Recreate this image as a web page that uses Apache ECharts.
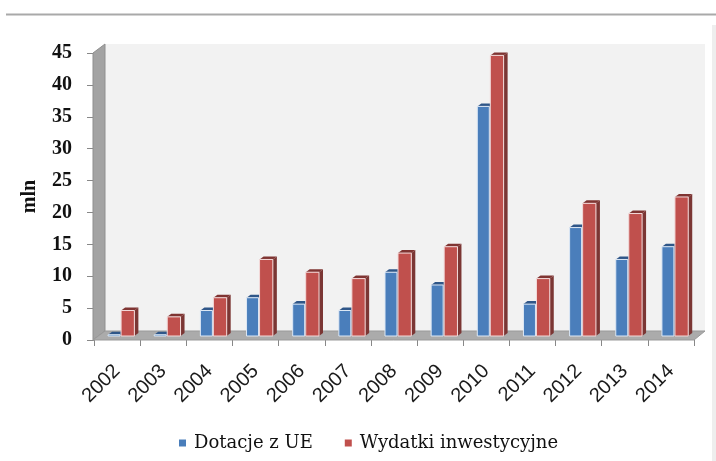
<!DOCTYPE html>
<html><head><meta charset="utf-8">
<script src="https://cdn.jsdelivr.net/npm/echarts@6.0.0/dist/echarts.min.js"></script>
<style>html,body{margin:0;padding:0;background:#fff;}#c{width:716px;height:461px;}</style>
</head><body><div id="c"></div>
<script>
const categories = ['2002','2003','2004','2005','2006','2007','2008','2009','2010','2011','2012','2013','2014'];
const dotacje = [0.2, 0.2, 4, 6, 5, 4, 10, 8, 36, 5, 17, 12, 14];
const wydatki = [4, 3, 6, 12, 10, 9, 13, 14, 44, 9, 20.8, 19.2, 21.8];
const seriesNames = ['Dotacje z UE', 'Wydatki inwestycyjne'];
const yMin = 0, yMax = 45, yStep = 5;

const chart = echarts.init(document.getElementById('c'), null, {renderer: 'canvas'});

function barRenderer(offL, offR, col) {
  return function (params, api) {
    const i = api.value(0), v = api.value(1);
    const base = api.coord([i, 0]);
    const top = api.coord([i, v]);
    const bw = api.size([1, 0])[0];
    const sh = 4, dx = 4, dy = 3;
    const x0 = base[0] + offL * bw, x1 = base[0] + offR * bw;
    const yb = base[1] - sh, yt = top[1] - sh;
    return {type: 'group', children: [
      {type: 'polygon', shape: {points: [[x1, yt], [x1 + dx, yt - dy], [x1 + dx, yb - dy], [x1, yb]]}, style: {fill: col.side}},
      {type: 'polygon', shape: {points: [[x0, yt], [x1, yt], [x1 + dx, yt - dy], [x0 + dx, yt - dy]]}, style: {fill: col.top}},
      {type: 'rect', shape: {x: x0, y: yt, width: x1 - x0, height: yb - yt}, style: {fill: col.front, stroke: col.edge, lineWidth: 1}}
    ]};
  };
}

function wallRenderer(params, api) {
  const cs = params.coordSys;
  const L = cs.x, T = cs.y, R = cs.x + cs.width, B = cs.y + cs.height;
  const dx = 11, dy = 9;
  return {type: 'group', children: [
    {type: 'rect', shape: {x: L + dx, y: T - dy, width: R - L, height: B - T}, style: {fill: '#f2f2f2'}},
    {type: 'polygon', shape: {points: [[L - 1, T], [L + dx, T - dy], [L + dx, B - dy], [L - 1, B]]}, style: {fill: '#a3a3a3', stroke: '#8f8f8f', lineWidth: 1}},
    {type: 'polygon', shape: {points: [[L - 1, B], [L + dx, B - dy], [R + dx, B - dy], [R, B]]}, style: {fill: '#ababab', stroke: '#999', lineWidth: 1}}
  ]};
}

chart.setOption({
  backgroundColor: '#ffffff',
  animation: false,
  grid: {left: 94, right: 22, top: 53, bottom: 121},
  graphic: [
    {type: 'line', shape: {x1: 6, y1: 14.5, x2: 716, y2: 14.5}, style: {stroke: '#a9a9a9', lineWidth: 2}},
    {type: 'rect', shape: {x: 712, y: 25, width: 4, height: 436}, style: {fill: '#eeeeee'}}
  ],
  legend: {
    data: seriesNames,
    left: 174, top: 429,
    icon: 'rect', itemWidth: 7, itemHeight: 7, itemGap: 32,
    textStyle: {fontFamily: 'DejaVu Serif', fontSize: 18, color: '#111', padding: [0, 0, 0, 3]}
  },
  xAxis: {
    type: 'category', data: categories,
    axisLine: {show: false},
    axisTick: {show: true, length: 6, lineStyle: {color: '#888'}},
    axisLabel: {rotate: 45, margin: 28, fontFamily: 'Liberation Sans', fontSize: 20, color: '#1a1a1a'}
  },
  yAxis: {
    type: 'value', min: yMin, max: yMax, interval: yStep,
    name: 'mln', nameLocation: 'middle', nameGap: 54,
    nameTextStyle: {fontFamily: 'Liberation Serif', fontWeight: 'bold', fontSize: 20, color: '#111'},
    axisLine: {show: false},
    axisTick: {show: true, length: 7, lineStyle: {color: '#888'}},
    splitLine: {show: false},
    axisLabel: {margin: 22, fontFamily: 'Liberation Serif', fontWeight: 'bold', fontSize: 20, color: '#111'}
  },
  series: [
    {type: 'custom', name: '_walls', silent: true, z: 1, data: [[0, 0]], renderItem: wallRenderer, clip: false},
    {type: 'custom', name: seriesNames[0], z: 2, itemStyle: {color: '#4a7ebb'},
      data: dotacje.map((v, i) => [i, v]), encode: {x: 0, y: 1},
      renderItem: barRenderer(-0.195, 0.065, {front: '#4a7ebb', top: '#2f5688', side: '#2c5080', edge: '#dde8f5'})},
    {type: 'custom', name: seriesNames[1], z: 3, itemStyle: {color: '#c0504d'},
      data: wydatki.map((v, i) => [i, v]), encode: {x: 0, y: 1},
      renderItem: barRenderer(0.087, 0.375, {front: '#c0504d', top: '#7f3432', side: '#7b3634', edge: '#f3dada'})}
  ]
});
</script>
</body></html>
